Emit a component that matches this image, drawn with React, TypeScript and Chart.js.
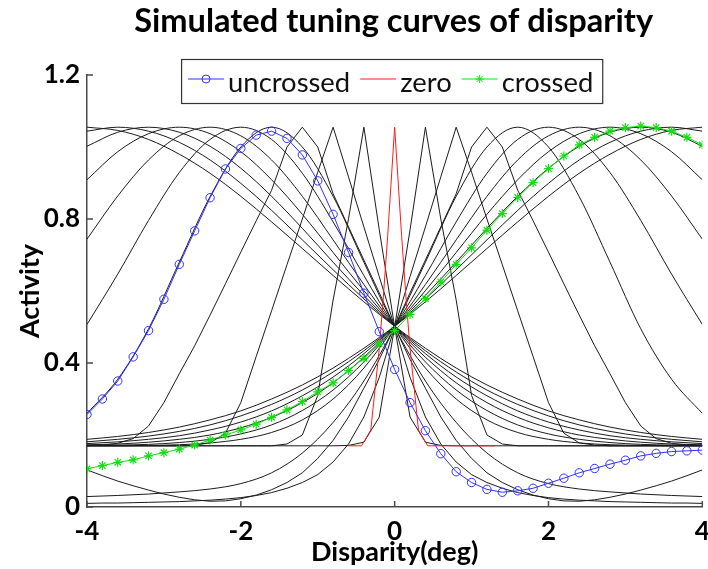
import React, { useEffect, useRef } from 'react';
import { Chart, registerables } from 'chart.js';

Chart.register(...registerables);

// ---------- data ----------
const titleText = 'Simulated tuning curves of disparity';
const xTitle = 'Disparity(deg)';
const yTitle = 'Activity';
const legendLabels = ['uncrossed', 'zero', 'crossed'];

// sampling grids (deg)
const xFine = [-4, -3.8, -3.6, -3.4, -3.2, -3, -2.8, -2.6, -2.4, -2.2, -2, -1.8, -1.6, -1.4, -1.2, -1, -0.8, -0.6, -0.4, -0.2, 0, 0.2, 0.4, 0.6, 0.8, 1, 1.2, 1.4, 1.6, 1.8, 2, 2.2, 2.4, 2.6, 2.8, 3, 3.2, 3.4, 3.6, 3.8, 4];
const xCoarse = [-4, -3.6, -3.2, -2.8, -2.4, -2, -1.6, -1.2, -0.8, -0.4, 0, 0.4, 0.8, 1.2, 1.6, 2, 2.4, 2.8, 3.2, 3.6, 4];

// highlighted curves (on xFine)
const uncrossed = [0.257, 0.30, 0.35, 0.417, 0.49, 0.577, 0.674, 0.767, 0.859, 0.939, 0.996, 1.033, 1.044, 1.024, 0.978, 0.906, 0.813, 0.707, 0.594, 0.487, 0.382, 0.29, 0.212, 0.148, 0.098, 0.068, 0.049, 0.041, 0.045, 0.052, 0.066, 0.08, 0.095, 0.107, 0.119, 0.13, 0.142, 0.149, 0.154, 0.156, 0.158];
const crossed = [0.106, 0.115, 0.124, 0.131, 0.142, 0.151, 0.161, 0.172, 0.186, 0.2, 0.214, 0.23, 0.249, 0.27, 0.293, 0.32, 0.345, 0.379, 0.413, 0.453, 0.49, 0.535, 0.579, 0.625, 0.674, 0.72, 0.769, 0.815, 0.86, 0.901, 0.94, 0.975, 1.006, 1.027, 1.044, 1.054, 1.058, 1.054, 1.044, 1.027, 1.006];

// zero-disparity curve
const zeroX = [-0.6, -0.43, -0.31, -0.2, -0.15, -0.09, 0, 0.09, 0.15, 0.2, 0.31, 0.43, 1.3];
const zeroY = [0.17, 0.17, 0.214, 0.44, 0.575, 0.755, 1.055, 0.755, 0.575, 0.44, 0.214, 0.17, 0.17];

// narrow tuning curves (on xFine), peaks at -0.4, -0.8, -1.2 and +0.4, +0.8, +1.2
const curveL04 = [0.17, 0.17, 0.17, 0.17, 0.17, 0.17, 0.17, 0.17, 0.17, 0.17, 0.17, 0.17, 0.17, 0.175, 0.2, 0.31, 0.575, 0.8, 1.055, 0.77, 0.5, 0.25, 0.18, 0.171, 0.17, 0.17, 0.17, 0.17, 0.17, 0.17, 0.17, 0.17, 0.17, 0.17, 0.17, 0.17, 0.17, 0.17, 0.17, 0.17, 0.17];
const curveR04 = [0.17, 0.17, 0.17, 0.17, 0.17, 0.17, 0.17, 0.17, 0.17, 0.17, 0.17, 0.17, 0.17, 0.17, 0.17, 0.17, 0.17, 0.171, 0.18, 0.25, 0.5, 0.77, 1.055, 0.8, 0.575, 0.31, 0.2, 0.175, 0.17, 0.17, 0.17, 0.17, 0.17, 0.17, 0.17, 0.17, 0.17, 0.17, 0.17, 0.17, 0.17];
const curveL08 = [0.17, 0.17, 0.17, 0.17, 0.17, 0.17, 0.17, 0.172, 0.178, 0.205, 0.29, 0.418, 0.545, 0.673, 0.80, 0.93, 1.055, 0.917, 0.778, 0.64, 0.5, 0.36, 0.25, 0.175, 0.125, 0.09, 0.068, 0.052, 0.04, 0.032, 0.026, 0.022, 0.019, 0.017, 0.015, 0.014, 0.013, 0.012, 0.011, 0.011, 0.01];
const curveR08 = [0.01, 0.011, 0.011, 0.012, 0.013, 0.014, 0.015, 0.017, 0.019, 0.022, 0.026, 0.032, 0.04, 0.052, 0.068, 0.09, 0.125, 0.175, 0.25, 0.36, 0.5, 0.64, 0.778, 0.917, 1.055, 0.93, 0.80, 0.673, 0.545, 0.418, 0.29, 0.205, 0.178, 0.172, 0.17, 0.17, 0.17, 0.17, 0.17, 0.17, 0.17];
const curveL12 = [0.17, 0.172, 0.177, 0.19, 0.225, 0.29, 0.37, 0.448, 0.533, 0.62, 0.708, 0.795, 0.88, 1.0, 1.055, 1.0, 0.87, 0.778, 0.686, 0.595, 0.5, 0.41, 0.33, 0.25, 0.185, 0.135, 0.095, 0.068, 0.048, 0.033, 0.023, 0.017, 0.016, 0.02, 0.027, 0.036, 0.047, 0.059, 0.072, 0.087, 0.103];
const curveR12 = [0.103, 0.087, 0.072, 0.059, 0.047, 0.036, 0.027, 0.02, 0.016, 0.017, 0.023, 0.033, 0.048, 0.068, 0.095, 0.135, 0.185, 0.25, 0.33, 0.41, 0.5, 0.595, 0.686, 0.778, 0.87, 1.0, 1.055, 1.0, 0.88, 0.795, 0.708, 0.62, 0.533, 0.448, 0.37, 0.29, 0.225, 0.19, 0.177, 0.172, 0.17];

// broad tuning curves (on xCoarse), peaks at -1.6 ... -4.0 and +1.6 ... +4.0
const curveL16 = [0.26, 0.355, 0.495, 0.68, 0.862, 1.0, 1.055, 1.0, 0.863, 0.68, 0.5, 0.35, 0.235, 0.15, 0.095, 0.065, 0.05, 0.042, 0.036, 0.032, 0.029];
const curveL20 = [0.507, 0.647, 0.796, 0.929, 1.021, 1.055, 1.021, 0.927, 0.792, 0.643, 0.502, 0.386, 0.30, 0.242, 0.207, 0.188, 0.178, 0.173, 0.171, 0.17, 0.17];
const curveL24 = [0.744, 0.864, 0.964, 1.031, 1.055, 1.031, 0.964, 0.863, 0.742, 0.618, 0.502, 0.403, 0.325, 0.268, 0.228, 0.203, 0.188, 0.179, 0.174, 0.172, 0.171];
const curveL28 = [0.909, 0.987, 1.037, 1.055, 1.037, 0.987, 0.909, 0.813, 0.707, 0.601, 0.502, 0.416, 0.345, 0.29, 0.249, 0.22, 0.20, 0.188, 0.18, 0.175, 0.173];
const curveL32 = [1.002, 1.041, 1.055, 1.041, 1.002, 0.941, 0.863, 0.774, 0.68, 0.588, 0.502, 0.426, 0.361, 0.309, 0.267, 0.236, 0.214, 0.198, 0.188, 0.181, 0.176];
const curveL36 = [1.044, 1.055, 1.044, 1.013, 0.964, 0.899, 0.824, 0.742, 0.659, 0.578, 0.502, 0.434, 0.375, 0.325, 0.285, 0.253, 0.228, 0.21, 0.197, 0.188, 0.181];
const curveL40 = [1.055, 1.046, 1.021, 0.98, 0.927, 0.863, 0.792, 0.718, 0.643, 0.57, 0.502, 0.441, 0.386, 0.339, 0.30, 0.267, 0.242, 0.222, 0.207, 0.196, 0.188];
const curveR16 = [0.029, 0.032, 0.036, 0.042, 0.05, 0.065, 0.095, 0.15, 0.235, 0.35, 0.5, 0.68, 0.863, 1.0, 1.055, 1.0, 0.862, 0.68, 0.495, 0.355, 0.26];
const curveR20 = [0.17, 0.17, 0.171, 0.173, 0.178, 0.188, 0.207, 0.242, 0.30, 0.386, 0.502, 0.643, 0.792, 0.927, 1.021, 1.055, 1.021, 0.929, 0.796, 0.647, 0.507];
const curveR24 = [0.171, 0.172, 0.174, 0.179, 0.188, 0.203, 0.228, 0.268, 0.325, 0.403, 0.502, 0.618, 0.742, 0.863, 0.964, 1.031, 1.055, 1.031, 0.964, 0.864, 0.744];
const curveR28 = [0.173, 0.175, 0.18, 0.188, 0.20, 0.22, 0.249, 0.29, 0.345, 0.416, 0.502, 0.601, 0.707, 0.813, 0.909, 0.987, 1.037, 1.055, 1.037, 0.987, 0.909];
const curveR32 = [0.176, 0.181, 0.188, 0.198, 0.214, 0.236, 0.267, 0.309, 0.361, 0.426, 0.502, 0.588, 0.68, 0.774, 0.863, 0.941, 1.002, 1.041, 1.055, 1.041, 1.002];
const curveR36 = [0.181, 0.188, 0.197, 0.21, 0.228, 0.253, 0.285, 0.325, 0.375, 0.434, 0.502, 0.578, 0.659, 0.742, 0.824, 0.899, 0.964, 1.013, 1.044, 1.055, 1.044];
const curveR40 = [0.188, 0.196, 0.207, 0.222, 0.242, 0.267, 0.30, 0.339, 0.386, 0.441, 0.502, 0.57, 0.643, 0.718, 0.792, 0.863, 0.927, 0.98, 1.021, 1.046, 1.055];

const narrowCurves = [curveL04, curveL08, curveL12, curveR04, curveR08, curveR12];
const broadCurves = [curveL16, curveL20, curveL24, curveL28, curveL32, curveL36, curveL40, curveR16, curveR20, curveR24, curveR28, curveR32, curveR36, curveR40];

// ---------- styles ----------
const BLUE = '#3030ff';
const RED = '#ff1a1a';
const GREEN = '#12e012';
const BLACK = '#1c1c1c';
const AXIS = '#4a4a4a';
const FONT = 'Lato, "Open Sans", "Liberation Sans", sans-serif';

const toPoints = (xs: number[], ys: number[]) => xs.map((x, i) => ({ x, y: ys[i] }));

function drawStar(ctx: CanvasRenderingContext2D, cx: number, cy: number, r: number) {
  ctx.beginPath();
  ctx.moveTo(cx - r, cy); ctx.lineTo(cx + r, cy);
  ctx.moveTo(cx, cy - r); ctx.lineTo(cx, cy + r);
  const d = r * Math.SQRT1_2;
  ctx.moveTo(cx - d, cy - d); ctx.lineTo(cx + d, cy + d);
  ctx.moveTo(cx - d, cy + d); ctx.lineTo(cx + d, cy - d);
  ctx.stroke();
}

const decorPlugin = {
  id: 'decor',
  afterDraw(chart: any) {
    const { ctx, chartArea: ca, scales } = chart;
    const xs = scales.x;
    const ys = scales.y;
    ctx.save();
    // inward tick marks
    ctx.strokeStyle = AXIS;
    ctx.lineWidth = 1.5;
    ys.ticks.forEach((t: any) => {
      const py = ys.getPixelForValue(t.value);
      ctx.beginPath(); ctx.moveTo(ca.left, py); ctx.lineTo(ca.left + 6, py); ctx.stroke();
    });
    xs.ticks.forEach((t: any) => {
      const px = xs.getPixelForValue(t.value);
      ctx.beginPath(); ctx.moveTo(px, ca.bottom); ctx.lineTo(px, ca.bottom - 6); ctx.stroke();
    });

    // title (sized to the reference width)
    const cx = (ca.left + ca.right) / 2;
    ctx.fillStyle = '#000';
    ctx.textAlign = 'center';
    ctx.textBaseline = 'alphabetic';
    ctx.font = `bold 30px ${FONT}`;
    const tw = ctx.measureText(titleText).width;
    const tSize = Math.min(34, 30 * 519 / tw);
    ctx.font = `bold ${tSize.toFixed(1)}px ${FONT}`;
    ctx.fillText(titleText, cx - 1, 32);

    // legend
    ctx.font = `25px ${FONT}`;
    const lw = ctx.measureText(legendLabels[0]).width;
    const lSize = Math.min(30, 25 * 122 / lw);
    ctx.font = `${lSize.toFixed(1)}px ${FONT}`;
    const lineLen = 36;
    const widths = legendLabels.map((l) => ctx.measureText(l).width);
    const innerPad = 7;
    const gapLineText = 4;
    const gapItems = 10;
    let total = innerPad;
    widths.forEach((w, i) => {
      total += lineLen + gapLineText + w + (i < widths.length - 1 ? gapItems : 9);
    });
    const boxLeft = cx - total / 2 - 3;
    const boxTop = 59;
    const boxBottom = 103;
    ctx.fillStyle = '#fff';
    ctx.fillRect(boxLeft, boxTop, total, boxBottom - boxTop);
    ctx.strokeStyle = '#333';
    ctx.lineWidth = 1.2;
    ctx.strokeRect(boxLeft + 0.5, boxTop + 0.5, total, boxBottom - boxTop);
    const colors = [BLUE, RED, GREEN];
    let cur = boxLeft + innerPad;
    const ly = 79;
    widths.forEach((w, i) => {
      ctx.strokeStyle = colors[i];
      ctx.lineWidth = 1;
      ctx.beginPath(); ctx.moveTo(cur, ly); ctx.lineTo(cur + lineLen, ly); ctx.stroke();
      const mx = cur + lineLen / 2;
      if (i === 0) {
        ctx.beginPath(); ctx.arc(mx, ly, 4, 0, Math.PI * 2); ctx.stroke();
      } else if (i === 2) {
        drawStar(ctx, mx, ly, 4);
      }
      cur += lineLen + gapLineText;
      ctx.fillStyle = '#111';
      ctx.textAlign = 'left';
      ctx.fillText(legendLabels[i], cur, 92);
      cur += w + gapItems;
    });
    ctx.restore();
  },
};

export default function App() {
  const ref = useRef<HTMLCanvasElement>(null);
  useEffect(() => {
    const canvas = ref.current;
    if (!canvas) return;
    const datasets: any[] = [];
    datasets.push({
      label: 'crossed', data: toPoints(xFine, crossed), borderColor: GREEN, borderWidth: 1,
      pointStyle: 'star', pointRadius: 4.5, pointBorderColor: GREEN, pointBorderWidth: 1.2, tension: 0,
    });
    datasets.push({
      label: 'uncrossed', data: toPoints(xFine, uncrossed), borderColor: BLUE, borderWidth: 1,
      pointStyle: 'circle', pointRadius: 4.2, pointBorderColor: BLUE, pointBackgroundColor: 'rgba(0,0,0,0)', pointBorderWidth: 1, tension: 0,
    });
    datasets.push({
      label: 'zero', data: toPoints(zeroX, zeroY), borderColor: RED, borderWidth: 1, pointRadius: 0, tension: 0,
    });
    narrowCurves.forEach((c) => datasets.push({
      label: '', data: toPoints(xFine, c), borderColor: BLACK, borderWidth: 1, pointRadius: 0, tension: 0,
    }));
    broadCurves.forEach((c) => datasets.push({
      label: '', data: toPoints(xCoarse, c), borderColor: BLACK, borderWidth: 1, pointRadius: 0, cubicInterpolationMode: 'monotone',
    }));

    const tickFont = { family: FONT, weight: 'bold' as const, size: 26 };
    const axisTitleFont = { family: FONT, weight: 'bold' as const, size: 27 };
    const chart = new Chart(canvas, {
      type: 'line',
      data: { datasets },
      options: {
        animation: false,
        responsive: false,
        events: [],
        layout: { padding: { top: 75, right: 5, left: 0, bottom: 0 } },
        plugins: { legend: { display: false }, title: { display: false }, tooltip: { enabled: false } },
        scales: {
          x: {
            type: 'linear', min: -4, max: 4,
            ticks: { stepSize: 2, font: tickFont, color: '#000', padding: 9, maxRotation: 0, autoSkip: false },
            grid: { display: false, drawTicks: false },
            border: { display: true, color: AXIS, width: 1.5 },
            title: { display: true, text: xTitle, color: '#000', font: axisTitleFont, padding: { top: 0, bottom: 1 } },
            afterFit: (s: any) => { s.height = 62; s.paddingRight = 0; s.paddingLeft = 0; },
          },
          y: {
            type: 'linear', min: 0, max: 1.2,
            ticks: {
              stepSize: 0.4, font: tickFont, color: '#000', padding: 7,
              callback: (v: any) => { const n = Math.round(Number(v) * 10) / 10; return n === 0 ? '0' : n.toFixed(1); },
            },
            grid: { display: false, drawTicks: false },
            border: { display: true, color: AXIS, width: 1.5 },
            title: { display: true, text: yTitle, color: '#000', font: axisTitleFont, padding: { top: 14, bottom: 0 } },
            afterFit: (s: any) => { s.width = 87; },
          },
        },
      },
      plugins: [decorPlugin],
    });
    return () => chart.destroy();
  }, []);
  return (
    <div style={{ position: 'fixed', left: 0, top: 0, width: 708, height: 569, background: '#fff' }}>
      <canvas ref={ref} width={708} height={569} style={{ width: 708, height: 569, display: 'block' }} />
    </div>
  );
}
